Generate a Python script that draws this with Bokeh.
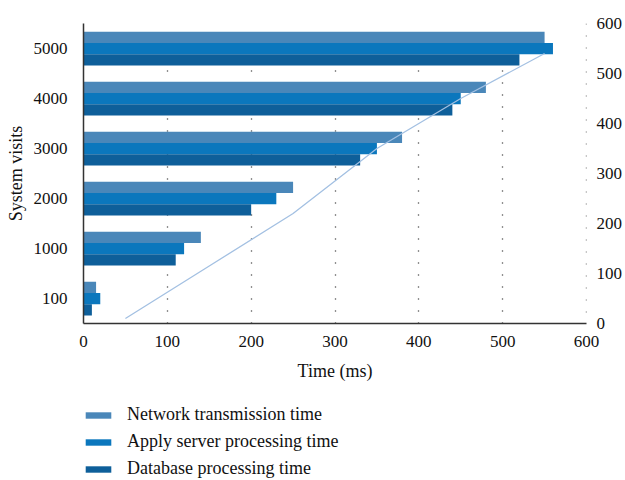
from bokeh.plotting import figure
from bokeh.models import (Range1d, LinearAxis, Legend, LegendItem,
                          ColumnDataSource, FixedTicker, Span)
from bokeh.layouts import column
from bokeh.transform import dodge
from bokeh.embed import file_html
from bokeh.resources import INLINE

visits = ["100", "1000", "2000", "3000", "4000", "5000"]
network = [15, 140, 250, 380, 480, 550]
apply_server = [20, 120, 230, 350, 450, 560]
database = [10, 110, 200, 330, 440, 520]

line_x = [50, 150, 250, 350, 450, 550]
line_y = [10, 115, 220, 350, 450, 540]

x_ticks = [0, 100, 200, 300, 400, 500, 600]
right_ticks = [0, 100, 200, 300, 400, 500, 600]

series_labels = ["Network transmission time", "Apply server processing time",
                 "Database processing time"]
series_colors = ["#4a87b9", "#0b77bd", "#0e5f9a"]

FONT = "Liberation Serif"
W = 625

ypos = [i + 0.5 for i in range(len(visits))]
src = ColumnDataSource(dict(y=ypos, network=network,
                            apply_server=apply_server, database=database))

p = figure(width=W, height=398, y_range=Range1d(0, len(visits)),
           x_range=Range1d(x_ticks[0], x_ticks[-1]), output_backend="svg",
           toolbar_location=None,
           min_border_left=83, min_border_right=W - 588, min_border_top=23,
           min_border_bottom=75)
p.outline_line_color = None
p.background_fill_color = None
p.border_fill_color = "white"

p.extra_y_ranges = {"right": Range1d(right_ticks[0], right_ticks[-1])}

p.xgrid.ticker = FixedTicker(ticks=x_ticks)
p.xgrid.grid_line_color = "#222222"
p.xgrid.grid_line_dash = "1 11"
p.xgrid.grid_line_width = 1.3
p.ygrid.grid_line_color = None
p.add_layout(Span(location=x_ticks[-1], dimension="height", line_color="#222222",
                  line_dash="1 11", line_width=1.3))

H = 0.225
cols = ["network", "apply_server", "database"]
offs = [H, 0, -H]
for c, o, col in zip(cols, offs, series_colors):
    p.hbar(y=dodge("y", o), right=c, left=0, height=H, source=src,
           color=col, line_color=None)

p.line(line_x, line_y, y_range_name="right", line_color="#a3c0e2", line_width=1.3)

# axes
p.xaxis.ticker = FixedTicker(ticks=x_ticks)
p.xaxis.axis_label = "Time (ms)"
p.yaxis.ticker = FixedTicker(ticks=ypos)
p.yaxis.major_label_overrides = {y: v for y, v in zip(ypos, visits)}
for ax in [p.xaxis[0], p.yaxis[0]]:
    ax.axis_label_text_font = FONT
    ax.axis_label_text_font_style = "normal"
    ax.axis_label_text_font_size = "18px"
    ax.major_label_text_font = FONT
    ax.major_label_text_font_size = "17px"
    ax.major_label_text_color = "#111111"
    ax.axis_label_text_color = "#111111"
    ax.axis_line_color = "#333333"
    ax.axis_line_width = 1.5
    ax.major_tick_line_color = None
    ax.minor_tick_line_color = None
p.yaxis.axis_label = "System visits"
p.yaxis.major_label_standoff = 10
p.yaxis.axis_label_standoff = 5
p.xaxis.major_label_standoff = 6
p.xaxis.axis_label_standoff = 11

rax = LinearAxis(y_range_name="right", ticker=FixedTicker(ticks=right_ticks))
rax.axis_line_color = None
rax.major_tick_line_color = None
rax.minor_tick_line_color = None
rax.major_label_text_font = FONT
rax.major_label_text_font_size = "17px"
rax.major_label_text_color = "#111111"
rax.major_label_standoff = 4
p.add_layout(rax, "right")

# legend panel below the chart (frame aligned with the chart above)
pl = figure(width=W, height=82, x_range=Range1d(0, 1), y_range=Range1d(0, 1),
            output_backend="svg", toolbar_location=None, min_border=0,
            x_axis_location=None, y_axis_location=None)
pl.grid.visible = False
pl.outline_line_color = None
pl.background_fill_color = None
items = []
for lab, col in zip(series_labels, series_colors):
    r = pl.hbar(y=[0], left=[0], right=[0], height=0, color=col, line_color=None)
    items.append(LegendItem(label=lab, renderers=[r]))

legend = Legend(items=items, location=(-1, 1), orientation="vertical")
legend.border_line_color = None
legend.background_fill_alpha = 0
legend.label_text_font = FONT
legend.label_text_font_size = "18px"
legend.label_text_color = "#111111"
legend.glyph_width = 32
legend.glyph_height = 8
legend.label_height = 20
legend.spacing = 6
legend.label_standoff = 13
legend.padding = 0
legend.margin = 0
legend.inactive_fill_alpha = 0
pl.add_layout(legend)

layout = column(p, pl, spacing=0)
open("out.html", "w").write(file_html(layout, INLINE))
